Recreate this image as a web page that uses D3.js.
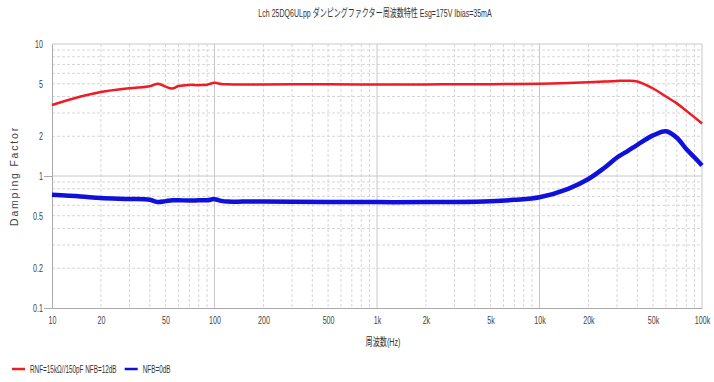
<!DOCTYPE html>
<html>
<head>
<meta charset="utf-8">
<script src="https://cdn.jsdelivr.net/npm/d3@7"></script>
<style>
  html, body { margin: 0; padding: 0; background: #fff; }
  svg { display: block; }
  text { font-family: "Liberation Sans", Arial, "Noto Sans CJK JP", sans-serif; fill: #333; }
</style>
</head>
<body>
<svg id="chart" width="714" height="382"></svg>
<script>
// Frequency points (Hz)
const freqs = [10, 15, 20, 30, 40, 45, 50, 55, 60, 70, 80, 90, 100, 110, 120, 150, 200, 300, 500,
  1000, 2000, 3000, 5000, 7000, 10000, 15000, 20000, 25000, 30000, 35000, 40000, 50000, 60000, 70000, 80000, 90000, 100000];

// Damping factor, NFB = 12 dB (RNF = 15kΩ//150pF)
const dfNfb12 = [3.45, 4.0, 4.33, 4.62, 4.78, 5.0, 4.75, 4.6, 4.8, 4.9, 4.88, 4.92, 5.08, 4.98, 4.95, 4.93, 4.94, 4.96, 4.95,
  4.94, 4.94, 4.95, 4.96, 4.98, 5.0, 5.06, 5.13, 5.2, 5.25, 5.27, 5.2, 4.6, 4.0, 3.55, 3.12, 2.78, 2.5];

// Damping factor, NFB = 0 dB
const dfNfb0 = [0.72, 0.7, 0.68, 0.67, 0.66, 0.635, 0.645, 0.655, 0.655, 0.652, 0.655, 0.655, 0.668, 0.648, 0.64, 0.64, 0.64, 0.638, 0.636,
  0.634, 0.634, 0.636, 0.645, 0.66, 0.69, 0.8, 0.95, 1.15, 1.38, 1.55, 1.72, 2.03, 2.18, 1.95, 1.6, 1.38, 1.2];

const xTicks = [10, 20, 50, 100, 200, 500, 1000, 2000, 5000, 10000, 20000, 50000, 100000];
const xTickLabels = ["10", "20", "50", "100", "200", "500", "1k", "2k", "5k", "10k", "20k", "50k", "100k"];
const yTicks = [0.1, 0.2, 0.5, 1, 2, 5, 10];
const yTickLabels = ["0.1", "0.2", "0.5", "1", "2", "5", "10"];

const seriesNames = ["RNF=15kΩ//150pF NFB=12dB", "NFB=0dB"];
const seriesColors = ["#ee1c25", "#1010dd"];

const svg = d3.select("#chart");
const m = { left: 52, right: 12, top: 44, bottom: 74 };
const W = 714, H = 382;
const x = d3.scaleLog().domain([10, 100000]).range([m.left, W - m.right]);
const y = d3.scaleLog().domain([0.1, 10]).range([H - m.bottom, m.top]);

// Narrow lettering: squeeze each text horizontally about its own anchor x
function condense(sel, k) {
  sel.each(function () {
    const x0 = +(this.getAttribute("x") || 0);
    d3.select(this).attr("transform", `translate(${x0 * (1 - k)},0) scale(${k},1)`);
  });
}

// Minor and major grid
const minorX = [], minorY = [];
for (let d = 10; d < 100000; d *= 10) for (let k = 2; k <= 9; k++) minorX.push(d * k);
for (let d = 0.1; d < 10; d *= 10) for (let k = 2; k <= 9; k++) minorY.push(+(d * k).toFixed(3));

const grid = svg.append("g");
grid.selectAll(".mx").data(minorX).join("line")
  .attr("x1", d => x(d)).attr("x2", d => x(d)).attr("y1", m.top).attr("y2", H - m.bottom)
  .attr("stroke", "#d6d6d6").attr("stroke-dasharray", "3,2").attr("stroke-width", 1);
grid.selectAll(".my").data(minorY).join("line")
  .attr("y1", d => y(d)).attr("y2", d => y(d)).attr("x1", m.left).attr("x2", W - m.right)
  .attr("stroke", "#d6d6d6").attr("stroke-dasharray", "3,2").attr("stroke-width", 1);
grid.selectAll(".Mx").data([100, 1000, 10000, 100000]).join("line")
  .attr("x1", d => x(d)).attr("x2", d => x(d)).attr("y1", m.top).attr("y2", H - m.bottom)
  .attr("stroke", "#c8c8c8").attr("stroke-width", 1);
grid.selectAll(".My").data([1, 10]).join("line")
  .attr("y1", d => y(d)).attr("y2", d => y(d)).attr("x1", m.left).attr("x2", W - m.right)
  .attr("stroke", "#c8c8c8").attr("stroke-width", 1);

// Axes
const xAxis = d3.axisBottom(x).tickValues(xTicks).tickFormat((d, i) => xTickLabels[i]).tickSize(0).tickPadding(8);
const gx = svg.append("g").attr("transform", `translate(0,${H - m.bottom})`).call(xAxis);
gx.select(".domain").attr("stroke", "#aaa");
gx.selectAll("text").attr("font-size", 11.5).style("fill", "#444").call(condense, 0.62);

const yAxis = d3.axisLeft(y).tickValues(yTicks).tickFormat((d, i) => yTickLabels[i]).tickSize(0).tickPadding(9);
const gy = svg.append("g").attr("transform", `translate(${m.left},0)`).call(yAxis);
gy.select(".domain").attr("stroke", "#aaa");
gy.selectAll("text").attr("font-size", 11.5).style("fill", "#444").call(condense, 0.62);
gy.selectAll(".tick").filter(d => d === 1 || d === 0.1).append("line")
  .attr("x1", -8).attr("x2", 0).attr("stroke", "#aaa");

// Series lines
const line = d3.line().x(d => x(d[0])).y(d => y(d[1])).curve(d3.curveCatmullRom.alpha(0.5));
svg.append("path").datum(freqs.map((f, i) => [f, dfNfb12[i]]))
  .attr("d", line).attr("fill", "none").attr("stroke", seriesColors[0]).attr("stroke-width", 2.5);
svg.append("path").datum(freqs.map((f, i) => [f, dfNfb0[i]]))
  .attr("d", line).attr("fill", "none").attr("stroke", seriesColors[1]).attr("stroke-width", 4.5);

// Titles
svg.append("text").attr("x", 375).attr("y", 17).attr("text-anchor", "middle").attr("font-size", 11)
  .text("Lch 25DQ6ULpp ダンピングファクター周波数特性 Esg=175V Ibias=35mA").call(condense, 0.64);
svg.append("text").attr("transform", `translate(18,${(m.top + H - m.bottom) / 2}) rotate(-90)`)
  .attr("text-anchor", "middle").attr("font-size", 10.5).style("letter-spacing", "1.8px").style("fill", "#444")
  .text("Damping Factor");
svg.append("text").attr("x", 383).attr("y", 346).attr("text-anchor", "middle").attr("font-size", 11.5)
  .text("周波数(Hz)").call(condense, 0.62);

// Legend
const legend = svg.append("g").attr("transform", "translate(12,369)");
let lx = 0;
seriesNames.forEach((name, i) => {
  const g = legend.append("g").attr("transform", `translate(${lx},0)`);
  g.append("line").attr("x1", 0).attr("x2", 13).attr("stroke", seriesColors[i]).attr("stroke-width", 2.5);
  const t = g.append("text").attr("x", 18).attr("y", 4).attr("font-size", 11).text(name);
  const w = t.node().getComputedTextLength() * 0.58;
  t.call(condense, 0.58);
  lx += 18 + w + 8;
});
</script>
</body>
</html>
